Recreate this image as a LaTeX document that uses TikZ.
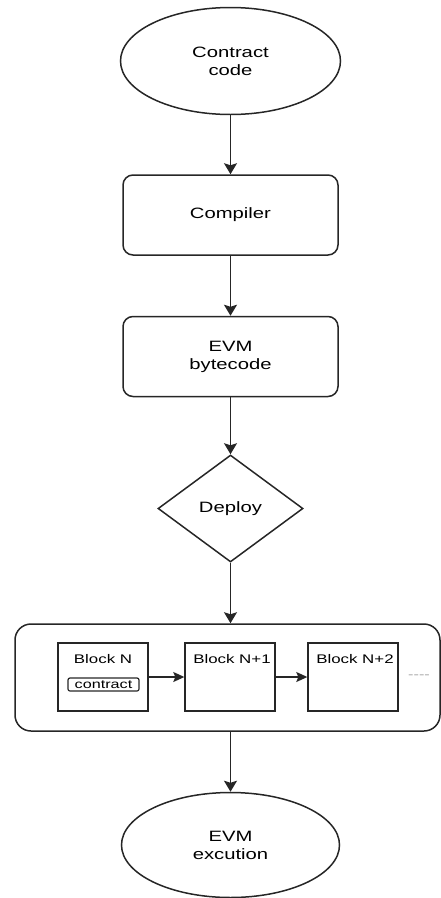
\documentclass[tikz,border=0pt]{standalone}
\usepackage{fontspec}
\setmainfont{Liberation Sans}[FakeStretch=1.35]
\usetikzlibrary{shapes.geometric,arrows.meta}
\begin{document}
\begin{tikzpicture}[x=1pt,y=-1pt,
  base/.style={draw=black!85, line width=1.5pt, align=center, font=\fontsize{15}{18}\selectfont, inner sep=0pt, text=black},
  term/.style={base, ellipse, minimum width=220pt, minimum height=107pt},
  proc/.style={base, rectangle, rounded corners=10pt, minimum width=215pt, minimum height=80pt},
  decision/.style={base, diamond, minimum width=145pt, minimum height=107pt},
  chainbox/.style={draw=black!85, line width=1.5pt, rectangle, rounded corners=16pt, minimum width=425pt, minimum height=107pt},
  blk/.style={draw=black!85, line width=1.4pt, rectangle, minimum width=90pt, minimum height=68pt},
  blklabel/.style={font=\fontsize{12.5}{15}\selectfont, inner sep=0pt, text=black},
  contractbox/.style={draw=black!85, line width=1.2pt, rectangle, rounded corners=2pt, minimum width=71pt, minimum height=13pt, inner sep=0.5pt, font=\fontsize{12}{13}\selectfont, text=black},
  arr/.style={-{Stealth[length=11pt,width=13pt,inset=2pt]}, line width=1.5pt, draw=black!85},
  sarr/.style={-{Stealth[length=11pt,width=10pt,inset=2pt]}, line width=1.3pt, draw=black!85},
]
\useasboundingbox (0,0) rectangle (441,898);

\node[term] (cc) at (230.5,61) {Contract\\code};
\node[proc] (comp) at (230.5,215) {Compiler};
\node[proc] (bc) at (230.5,356.5) {EVM\\bytecode};
\node[decision] (dep) at (230.5,508.5) {Deploy};
\node[chainbox] (chain) at (227.5,677.5) {};
\node[term, minimum width=218pt, minimum height=105pt] (exe) at (230.5,845) {EVM\\excution};

\node[blk] (bN) at (103,677) {};
\node[blk] (bN1) at (230,677) {};
\node[blk] (bN2) at (353,677) {};
\node[blklabel] (lN) at (103,659) {Block N};
\node[blklabel] (lN1) at (232,659) {Block N+1};
\node[blklabel] (lN2) at (355,659) {Block N+2};
\node[contractbox] (ct) at (103.5,684.5) {contract};
\node[blklabel, text=black!35, font=\fontsize{12}{14}\selectfont] (more) at (419,677) {-{}-{}-{}-};

\draw[arr] (cc) -- (comp);
\draw[arr] (comp) -- (bc);
\draw[arr] (bc) -- (dep);
\draw[arr] (dep) -- (dep |- chain.north);
\draw[arr] (chain.south -| dep) -- (exe);
\draw[sarr] (bN) -- (bN1);
\draw[sarr] (bN1) -- (bN2);
\end{tikzpicture}
\end{document}
